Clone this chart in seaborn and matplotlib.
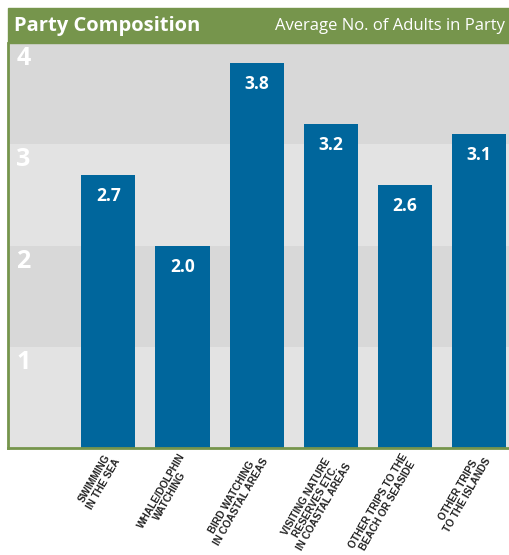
import matplotlib
matplotlib.use("Agg")
import matplotlib.pyplot as plt
import seaborn as sns
import pandas as pd
from matplotlib.patches import Rectangle
from matplotlib import font_manager

categories = [
    "SWIMMING\nIN THE SEA",
    "WHALE/DOLPHIN\nWATCHING",
    "BIRD WATCHING\nIN COASTAL AREAS",
    "VISITING NATURE\nRESERVES ETC.\nIN COASTAL AREAS",
    "OTHER TRIPS TO THE\nBEACH OR SEASIDE",
    "OTHER TRIPS\nTO THE ISLANDS",
]
adults = [2.7, 2.0, 3.8, 3.2, 2.6, 3.1]
y_ticks = [1, 2, 3, 4]

title = "Party Composition"
subtitle = "Average No. of Adults in Party"

GREEN = "#76954c"
BLUE = "#00669c"
BAND_DARK = "#d8d8d8"
BAND_LIGHT = "#e3e3e3"

sns.set_theme(style="white")
plt.rcParams["font.family"] = ["Open Sans", "DejaVu Sans"]

names = {f.name for f in font_manager.fontManager.ttflist}
label_family = ["Liberation Sans Narrow"] if "Liberation Sans Narrow" in names else ["Liberation Sans"]
label_family.append("DejaVu Sans")

df = pd.DataFrame({"activity": categories, "adults": adults})

W, H = 510, 555
fig = plt.figure(figsize=(W / 100, H / 100), dpi=100)
ax = fig.add_axes([8 / W, (H - 448) / H, (509 - 8) / W, (448 - 43) / H])

# alternating horizontal bands
for lo in range(0, 4):
    ax.axhspan(lo, lo + 1, color=BAND_LIGHT if lo % 2 == 0 else BAND_DARK,
               zorder=0, lw=0)

sns.barplot(data=df, x="activity", y="adults", color=BLUE, width=0.73,
            saturation=1, linewidth=0, edgecolor="none", ax=ax, zorder=2)
ax.set_xlim(-1.35, 5.4)
ax.set_ylim(0, 4)

for i, v in enumerate(adults):
    ax.text(i, v - 0.12, f"{v:.1f}", ha="center", va="top", color="white",
            fontsize=12.5, fontweight="bold", zorder=3)

for t in y_ticks:
    ax.text(-1.24, t - 0.03, str(t), ha="left", va="top", color="white",
            fontsize=18, fontweight="bold", zorder=1)

ax.set_xticks([])
ax.set_yticks([])
ax.set_xlabel("")
ax.set_ylabel("")
for side in ["top", "right"]:
    ax.spines[side].set_visible(False)
for side in ["left", "bottom"]:
    ax.spines[side].set_color(GREEN)
    ax.spines[side].set_linewidth(2)

# rotated category labels under each bar
for i, lab in enumerate(categories):
    ax.annotate(lab, xy=(i, 0), xycoords="data", xytext=(-3, -2.5),
                textcoords="offset points", rotation=60, rotation_mode="anchor",
                ha="right", va="top", multialignment="center",
                fontsize=7.3, fontweight="bold", color="#222222",
                linespacing=1.05, family=label_family,
                annotation_clip=False)

# header bar
fig.patches.append(Rectangle((8 / W, (H - 43) / H), (W - 8) / W, 35 / H,
                             transform=fig.transFigure, color=GREEN, zorder=0))
fig.text(14 / W, (H - 25.5) / H, title, ha="left", va="center", color="white",
         fontsize=14.5, fontweight="bold")
fig.text(505 / W, (H - 25.5) / H, subtitle, ha="right", va="center",
         color="white", fontsize=12)

fig.savefig("out.png", dpi=100, facecolor="white")
